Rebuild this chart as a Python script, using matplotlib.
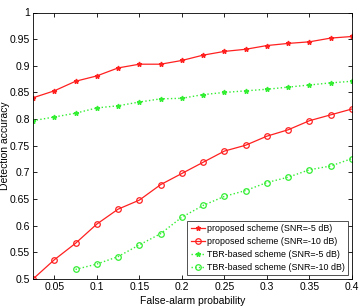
import matplotlib.pyplot as plt
import numpy as np

plt.rcParams['font.family'] = ['Liberation Sans', 'DejaVu Sans']

pfa = [0.025, 0.05, 0.075, 0.1, 0.125, 0.15, 0.175, 0.2,
       0.225, 0.25, 0.275, 0.3, 0.325, 0.35, 0.375, 0.4]
proposed_5 = [0.840, 0.853, 0.871, 0.881, 0.896, 0.903, 0.903, 0.910,
              0.920, 0.927, 0.931, 0.938, 0.942, 0.945, 0.952, 0.955]
proposed_10 = [0.500, 0.536, 0.567, 0.603, 0.631, 0.648, 0.677, 0.698,
               0.719, 0.740, 0.751, 0.768, 0.780, 0.797, 0.808, 0.819]
tbr_5 = [0.797, 0.804, 0.811, 0.821, 0.825, 0.832, 0.838, 0.839,
         0.846, 0.850, 0.853, 0.856, 0.860, 0.864, 0.868, 0.871]
pfa_tbr10 = pfa[2:]
tbr_10 = [0.518, 0.528, 0.542, 0.564, 0.585, 0.616, 0.638,
          0.655, 0.666, 0.681, 0.691, 0.705, 0.712, 0.726]

red = '#ff2020'
green = '#33ee33'

fig = plt.figure(figsize=(3.6, 3.06), dpi=100)
ax = fig.add_axes([33/360, 1 - 279/306, 319/360, 266.5/306])

ax.plot(pfa, proposed_5, '-', color=red, marker='*', ms=3.5, lw=0.9,
        label='proposed scheme (SNR=-5 dB)')
ax.plot(pfa, proposed_10, '-', color=red, marker='o', ms=4, mfc='none', mew=0.9, lw=0.9,
        label='proposed scheme (SNR=-10 dB)')
ax.plot(pfa, tbr_5, ':', color=green, marker='*', ms=3.5, lw=1.0,
        label='TBR-based scheme (SNR=-5 dB)')
ax.plot(pfa_tbr10, tbr_10, ':', color=green, marker='o', ms=4, mfc='none', mew=0.9, lw=1.0,
        label='TBR-based scheme (SNR=-10 dB)')

ax.set_xlim(0.025, 0.4)
ax.set_ylim(0.5, 1.0)
ax.set_xticks(np.arange(0.05, 0.401, 0.05))
ax.set_xticklabels(['0.05', '0.1', '0.15', '0.2', '0.25', '0.3', '0.35', '0.4'])
ax.set_yticks(np.arange(0.5, 1.001, 0.05))
ax.set_yticklabels(['0.5', '0.55', '0.6', '0.65', '0.7', '0.75', '0.8',
                    '0.85', '0.9', '0.95', '1'])
ax.tick_params(direction='in', top=True, right=True, labelsize=7.5, length=3, width=0.6, pad=2)
for s in ax.spines.values():
    s.set_linewidth(0.6)

ax.set_xlabel('False-alarm probability', fontsize=7.5)
ax.set_ylabel('Detection accuracy', fontsize=7.5)
ax.xaxis.set_label_coords(0.5, -0.062)
ax.yaxis.set_label_coords(-0.072, 0.5)

leg = ax.legend(loc='lower right', fontsize=6.4, frameon=True, fancybox=False,
                edgecolor='black', borderaxespad=0.4, handlelength=1.6,
                labelspacing=0.45, borderpad=0.35, handletextpad=0.3)
leg.get_frame().set_linewidth(0.6)

fig.savefig('out.png', dpi=100)
